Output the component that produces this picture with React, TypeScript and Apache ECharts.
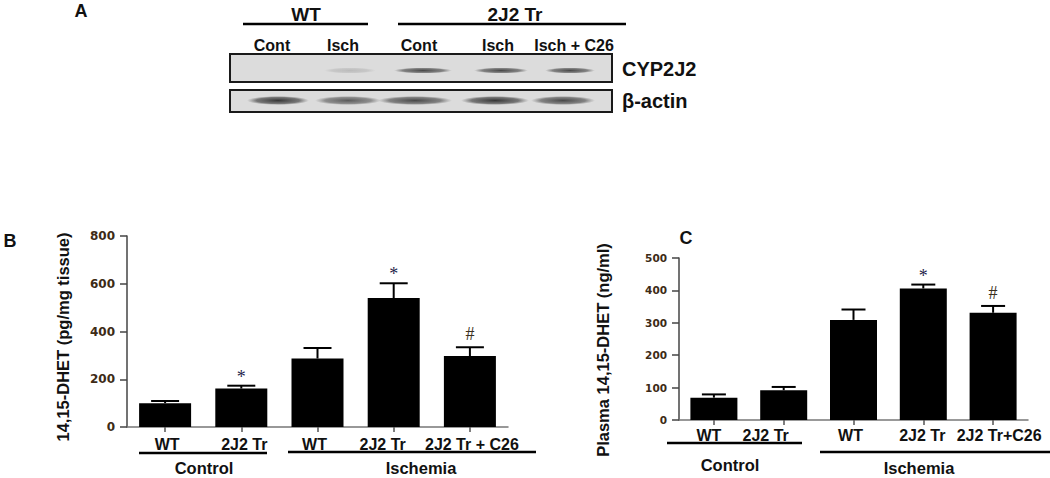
import React, { useEffect, useRef } from 'react';
import * as echarts from 'echarts';

// ---- Panel B: tissue 14,15-DHET ----
const tissueCategories = ['WT', '2J2 Tr', 'WT', '2J2 Tr', '2J2 Tr + C26'];
const tissueMeans = [100, 161, 287, 540, 297];
const tissueErrors = [9, 12, 44, 62, 37];
const tissueMarks = ['', '*', '', '*', '#'];
const tissueAxis = { min: 0, max: 800, interval: 200 };

// ---- Panel C: plasma 14,15-DHET ----
const plasmaCategories = ['WT', '2J2 Tr', 'WT', '2J2 Tr', '2J2 Tr+C26'];
const plasmaMeans = [69, 92, 309, 406, 331];
const plasmaErrors = [10, 10, 32, 12, 21];
const plasmaMarks = ['', '', '', '*', '#'];
const plasmaAxis = { min: 0, max: 500, interval: 100 };

// ---- Groups / blot ----
const groupLabels = ['Control', 'Ischemia'];
const blotGenotypes = ['WT', '2J2 Tr'];
const blotLanes = ['Cont', 'Isch', 'Cont', 'Isch', 'Isch + C26'];
const blotProteins = ['CYP2J2', 'β-actin'];
const cyp2j2Intensity = [0, 0.18, 0.8, 0.8, 0.8];
const actinIntensity = [0.9, 0.7, 0.8, 0.9, 0.8];

const FONT = '"Liberation Sans", Arial, sans-serif';
const TICKFONT = '"DejaVu Sans", sans-serif';
const TICKCOLOR = '#3d2b16';

function errorRenderer(marks: string[], capHalf: number) {
  return (params: any, api: any) => {
    const i = api.value(0);
    const mean = api.value(1);
    const err = api.value(2);
    const base = api.coord([i, mean]);
    const top = api.coord([i, mean + err]);
    const children: any[] = [
      { type: 'line', shape: { x1: base[0], y1: base[1], x2: top[0], y2: top[1] }, style: { stroke: '#000', lineWidth: 2 } },
      { type: 'line', shape: { x1: top[0] - capHalf, y1: top[1], x2: top[0] + capHalf, y2: top[1] }, style: { stroke: '#000', lineWidth: 2 } },
    ];
    const m = marks[i];
    if (m) {
      children.push({
        type: 'text',
        x: top[0],
        y: top[1] - (m === '*' ? 9 : 13),
        style: {
          text: m,
          fill: m === '*' ? '#1f1f4a' : '#3a3020',
          font: '18px "Liberation Serif", "DejaVu Serif", serif',
          align: 'center',
          verticalAlign: 'middle',
        },
      });
    }
    return { type: 'group', children };
  };
}

function band(cx: number, cy: number, rx: number, ry: number, a: number) {
  return {
    type: 'ellipse',
    shape: { cx, cy, rx, ry },
    style: {
      fill: new echarts.graphic.RadialGradient(0.5, 0.5, 0.5, [
        { offset: 0, color: `rgba(35,35,35,${a})` },
        { offset: 0.7, color: `rgba(60,60,60,${a * 0.7})` },
        { offset: 1, color: 'rgba(90,90,90,0)' },
      ]),
    },
    silent: true,
  };
}

function txt(x: number, y: number, text: string, size: number, opts: any = {}) {
  return {
    type: 'text',
    x,
    y,
    rotation: opts.rotation || 0,
    style: {
      text,
      fill: opts.fill || '#111',
      font: `bold ${size}px ${FONT}`,
      align: opts.align || 'center',
      verticalAlign: 'middle',
    },
    silent: true,
  };
}

function hline(x1: number, x2: number, y: number, w = 2.5) {
  return { type: 'line', shape: { x1, y1: y, x2, y2: y }, style: { stroke: '#000', lineWidth: w }, silent: true };
}

function labelItem(value: string, shift: number) {
  if (!shift) return value;
  const pad = shift < 0 ? [0, -2 * shift, 0, 0] : [0, 0, 0, 2 * shift];
  return { value, textStyle: { padding: pad } };
}

const tissueShift = [2, 3, -3, -11, 2];
const plasmaShift = [-5, -18, -3, -1, 6];

export default function App() {
  const ref = useRef<HTMLDivElement>(null);
  useEffect(() => {
    if (!ref.current) return;
    const chart = echarts.init(ref.current, null, { renderer: 'svg' });

    const cypLanes = [274, 350, 423, 501, 570];
    const cypRx = [26, 26, 29, 27, 25];
    const actLanes = [278, 348, 415, 495, 563];
    const actRx = [31, 33, 37, 34, 32];
    const laneLabelX = [272, 343, 419, 498, 574];

    const graphics: any[] = [
      txt(81, 11, 'A', 18),
      txt(10, 241, 'B', 18),
      txt(686, 238, 'C', 18),
      // blot header
      txt(306, 14, blotGenotypes[0], 19),
      txt(515, 14, blotGenotypes[1], 19),
      hline(243, 368, 24),
      hline(398, 626, 24),
      ...blotLanes.map((l, i) => txt(laneLabelX[i], 45, l, 16)),
      {
        type: 'rect',
        shape: { x: 230, y: 54, width: 382, height: 28 },
        style: { fill: '#dcdcdc', stroke: '#1a1a1a', lineWidth: 2 },
        silent: true,
      },
      {
        type: 'rect',
        shape: { x: 230, y: 90, width: 382, height: 22 },
        style: { fill: '#dcdcdc', stroke: '#1a1a1a', lineWidth: 2 },
        silent: true,
      },
      ...cyp2j2Intensity.map((a, i) => (a > 0 ? band(cypLanes[i], 70.5, cypRx[i], 3, a) : null)).filter(Boolean),
      ...actinIntensity.map((a, i) => band(actLanes[i], 100.5, actRx[i], 4.5, a)),
      txt(622, 69, blotProteins[0], 20, { align: 'left' }),
      txt(622, 101, blotProteins[1], 20, { align: 'left' }),
      // y titles
      txt(63, 337, '14,15-DHET (pg/mg tissue)', 16.5, { rotation: Math.PI / 2 }),
      txt(603, 350, 'Plasma 14,15-DHET (ng/ml)', 16.5, { rotation: Math.PI / 2 }),
      // group underlines B
      hline(139, 267, 453),
      hline(288, 536, 452),
      txt(204, 468, groupLabels[0], 16.5),
      txt(421, 468, groupLabels[1], 16.5),
      // group underlines C
      hline(667, 802, 443),
      hline(820, 1050, 452),
      txt(730, 465, groupLabels[0], 16.5),
      txt(919, 468, groupLabels[1], 16.5),
    ];

    const yAxisCommon = (cfg: any, size: number) => ({
      type: 'value',
      min: cfg.min,
      max: cfg.max,
      interval: cfg.interval,
      axisLine: { show: true, lineStyle: { color: '#444', width: 1.5 } },
      axisTick: { show: true, length: 7, lineStyle: { color: '#444', width: 1.5 } },
      splitLine: { show: false },
      axisLabel: { margin: 12, color: TICKCOLOR, fontFamily: TICKFONT, fontWeight: 'bold', fontSize: size },
    });

    const xAxisCommon = (cats: string[], shifts: number[], gridIndex: number, margin: number) => ({
      type: 'category',
      gridIndex,
      data: cats.map((c, i) => labelItem(c, shifts[i])),
      axisLine: { show: true, lineStyle: { color: '#777', width: 1.5 } },
      axisTick: { show: true, alignWithLabel: true, length: 5, lineStyle: { color: '#555', width: 1.5 } },
      axisLabel: { interval: 0, margin, color: '#111', fontFamily: FONT, fontWeight: 'bold', fontSize: 16 },
    });

    chart.setOption({
      animation: false,
      backgroundColor: '#fff',
      grid: [
        { left: 127, top: 236, width: 381, height: 191 },
        { left: 679, top: 258, width: 349, height: 162 },
      ],
      xAxis: [xAxisCommon(tissueCategories, tissueShift, 0, 9), xAxisCommon(plasmaCategories, plasmaShift, 1, 7)],
      yAxis: [
        { ...yAxisCommon(tissueAxis, 12), gridIndex: 0 },
        { ...yAxisCommon(plasmaAxis, 10.5), gridIndex: 1 },
      ],
      series: [
        {
          type: 'bar',
          xAxisIndex: 0,
          yAxisIndex: 0,
          data: tissueMeans,
          barWidth: 52,
          itemStyle: { color: '#000' },
        },
        {
          type: 'custom',
          xAxisIndex: 0,
          yAxisIndex: 0,
          renderItem: errorRenderer(tissueMarks, 14),
          data: tissueMeans.map((m, i) => [i, m, tissueErrors[i]]),
          encode: { x: 0, y: 1 },
          z: 3,
        },
        {
          type: 'bar',
          xAxisIndex: 1,
          yAxisIndex: 1,
          data: plasmaMeans,
          barWidth: 47,
          itemStyle: { color: '#000' },
        },
        {
          type: 'custom',
          xAxisIndex: 1,
          yAxisIndex: 1,
          renderItem: errorRenderer(plasmaMarks, 12),
          data: plasmaMeans.map((m, i) => [i, m, plasmaErrors[i]]),
          encode: { x: 0, y: 1 },
          z: 3,
        },
      ],
      graphic: graphics,
    });
    return () => chart.dispose();
  }, []);
  return <div ref={ref} style={{ position: 'fixed', left: 0, top: 0, width: 1050, height: 478 }} />;
}
